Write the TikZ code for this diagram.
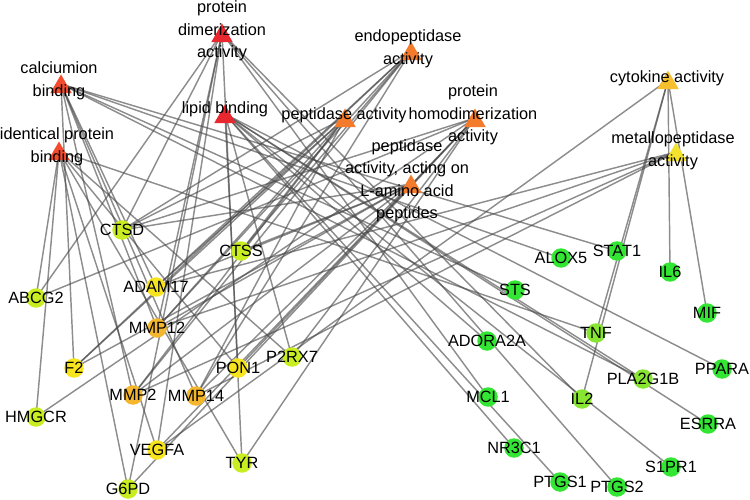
\documentclass[tikz,border=0pt]{standalone}
\usepackage{fontspec}
\setmainfont{Liberation Sans}
\usetikzlibrary{shapes.geometric}
\definecolor{cRed}{HTML}{E8282E}
\definecolor{cRedOr}{HTML}{F24B2E}
\definecolor{cOrange}{HTML}{F47B2C}
\definecolor{cGold}{HTML}{F7BE2E}
\definecolor{cYel}{HTML}{F5E22E}
\definecolor{gGreen}{HTML}{33E633}
\definecolor{gLGreen}{HTML}{88E633}
\definecolor{gYG}{HTML}{C8EE22}
\definecolor{gYellow}{HTML}{F7E41E}
\definecolor{gOrange}{HTML}{F3B62C}
\begin{document}
\begin{tikzpicture}[x=1pt,y=-1pt,
  edge/.style={draw=black!72, line width=1.45pt, opacity=0.62},
  gene/.style={circle, minimum size=19.5pt, inner sep=0pt, draw=none},
  term/.style={regular polygon, regular polygon sides=3, minimum size=25pt, inner sep=0pt, draw=none, yshift=-3pt},
  lab/.style={font=\fontsize{16.3}{22.5}\selectfont, align=center, inner sep=0pt, text=black}
]
\useasboundingbox (0,0) rectangle (750,500);
% term coordinates
\coordinate (DIM) at (222,33);
\coordinate (CA) at (61,84);
\coordinate (ID) at (59,151);
\coordinate (LIP) at (225,114);
\coordinate (ENDO) at (411,51);
\coordinate (PEP) at (345,118);
\coordinate (HOMO) at (475,118);
\coordinate (PEPL) at (411,184);
\coordinate (CYTO) at (668,80);
\coordinate (MET) at (676,152);
% gene coordinates
\coordinate (CTSD) at (122,230);
\coordinate (CTSS) at (241,251);
\coordinate (ABCG2) at (36,298);
\coordinate (ADAM17) at (156,287);
\coordinate (MMP12) at (157,328);
\coordinate (F2) at (74,368);
\coordinate (MMP2) at (133,395);
\coordinate (MMP14) at (196,396);
\coordinate (PON1) at (238,368);
\coordinate (P2RX7) at (292,357);
\coordinate (HMGCR) at (36,417);
\coordinate (VEGFA) at (157,450);
\coordinate (TYR) at (242,463);
\coordinate (G6PD) at (128,489);
\coordinate (ALOX5) at (561,258);
\coordinate (STAT1) at (617,251);
\coordinate (IL6) at (670,272);
\coordinate (STS) at (515,290);
\coordinate (MIF) at (707,313);
\coordinate (TNF) at (596,333);
\coordinate (ADORA2A) at (487,341);
\coordinate (PPARA) at (722,369);
\coordinate (PLA2G1B) at (643,379);
\coordinate (MCL1) at (488,397);
\coordinate (IL2) at (582,399);
\coordinate (ESRRA) at (708,424);
\coordinate (NR3C1) at (514,448);
\coordinate (S1PR1) at (671,467);
\coordinate (PTGS1) at (560,482);
\coordinate (PTGS2) at (617,487);
% edges
\foreach \g in {ALOX5,STAT1,STS,PLA2G1B,F2,MMP2,MMP12,MMP14,ADAM17} \draw[edge] (CA) -- (\g);
\foreach \g in {TNF,ABCG2,HMGCR,G6PD,VEGFA,TYR,PON1,P2RX7} \draw[edge] (ID) -- (\g);
\foreach \g in {ABCG2,CTSD,MMP12,VEGFA,G6PD,TYR,MCL1,PTGS2,IL2} \draw[edge] (DIM) -- (\g);
\foreach \g in {PON1,P2RX7,PPARA,ESRRA,PLA2G1B,S1PR1,NR3C1,PTGS1,ADORA2A} \draw[edge] (LIP) -- (\g);
\foreach \g in {ABCG2,CTSD,PON1,TYR,G6PD,VEGFA,HMGCR,P2RX7} \draw[edge] (HOMO) -- (\g);
\foreach \g in {CTSD,CTSS,ADAM17,MMP12,MMP2,MMP14,F2} \draw[edge] (PEP) -- (\g);
\foreach \g in {CTSD,CTSS,ADAM17,MMP12,MMP2,MMP14,F2} \draw[edge] (ENDO) -- (\g);
\foreach \g in {CTSD,CTSS,ADAM17,MMP12,MMP2,MMP14,F2} \draw[edge] (PEPL) -- (\g);
\foreach \g in {ADAM17,MMP12,MMP2,MMP14} \draw[edge] (MET) -- (\g);
\foreach \g in {IL6,MIF,TNF,IL2,VEGFA} \draw[edge] (CYTO) -- (\g);
% term shapes
\node[term, fill=cRed] (DIM-s) at (DIM) {};
\node[term, fill=cRed] (LIP-s) at (LIP) {};
\node[term, fill=cRedOr] (CA-s) at (CA) {};
\node[term, fill=cRedOr] (ID-s) at (ID) {};
\node[term, fill=cOrange] (ENDO-s) at (ENDO) {};
\node[term, fill=cOrange] (PEP-s) at (PEP) {};
\node[term, fill=cOrange] (HOMO-s) at (HOMO) {};
\node[term, fill=cOrange] (PEPL-s) at (PEPL) {};
\node[term, fill=cGold] (CYTO-s) at (CYTO) {};
\node[term, fill=cYel] (MET-s) at (MET) {};
% gene shapes
\foreach \g in {CTSD,CTSS,ABCG2,P2RX7,HMGCR,TYR,G6PD} \node[gene, fill=gYG] (\g-s) at (\g) {};
\foreach \g in {ADAM17,F2,PON1,VEGFA} \node[gene, fill=gYellow] (\g-s) at (\g) {};
\foreach \g in {MMP12,MMP2,MMP14} \node[gene, fill=gOrange] (\g-s) at (\g) {};
\foreach \g in {ALOX5,STAT1,IL6,STS,MIF,ADORA2A,PPARA,MCL1,ESRRA,NR3C1,S1PR1,PTGS1,PTGS2} \node[gene, fill=gGreen] (\g-s) at (\g) {};
\foreach \g in {TNF,IL2,PLA2G1B} \node[gene, fill=gLGreen] (\g-s) at (\g) {};
% term labels
\node[lab] (DIM-l) at (222,31) {protein\\dimerization\\activity};
\node[lab] (CA-l) at (59,81) {calciumion\\binding};
\node[lab] (ID-l) at (57,147) {identical protein\\binding};
\node[lab] (LIP-l) at (225,109) {lipid binding};
\node[lab] (ENDO-l) at (408,49) {endopeptidase\\activity};
\node[lab] (PEP-l) at (344,115) {peptidase activity};
\node[lab] (HOMO-l) at (473,115) {protein\\homodimerization\\activity};
\node[lab] (PEPL-l) at (407,181) {peptidase\\activity, acting on\\L-amino acid\\peptides};
\node[lab] (CYTO-l) at (667,78) {cytokine activity};
\node[lab] (MET-l) at (673,151) {metallopeptidase\\activity};
% gene labels
\foreach \g in {CTSD,CTSS,ABCG2,ADAM17,MMP12,F2,MMP2,MMP14,PON1,P2RX7,HMGCR,VEGFA,TYR,G6PD,ALOX5,STAT1,IL6,STS,MIF,TNF,ADORA2A,PPARA,PLA2G1B,MCL1,IL2,ESRRA,NR3C1,S1PR1,PTGS1,PTGS2}
  \node[lab] (\g-l) at (\g) {\g};
\end{tikzpicture}
\end{document}
